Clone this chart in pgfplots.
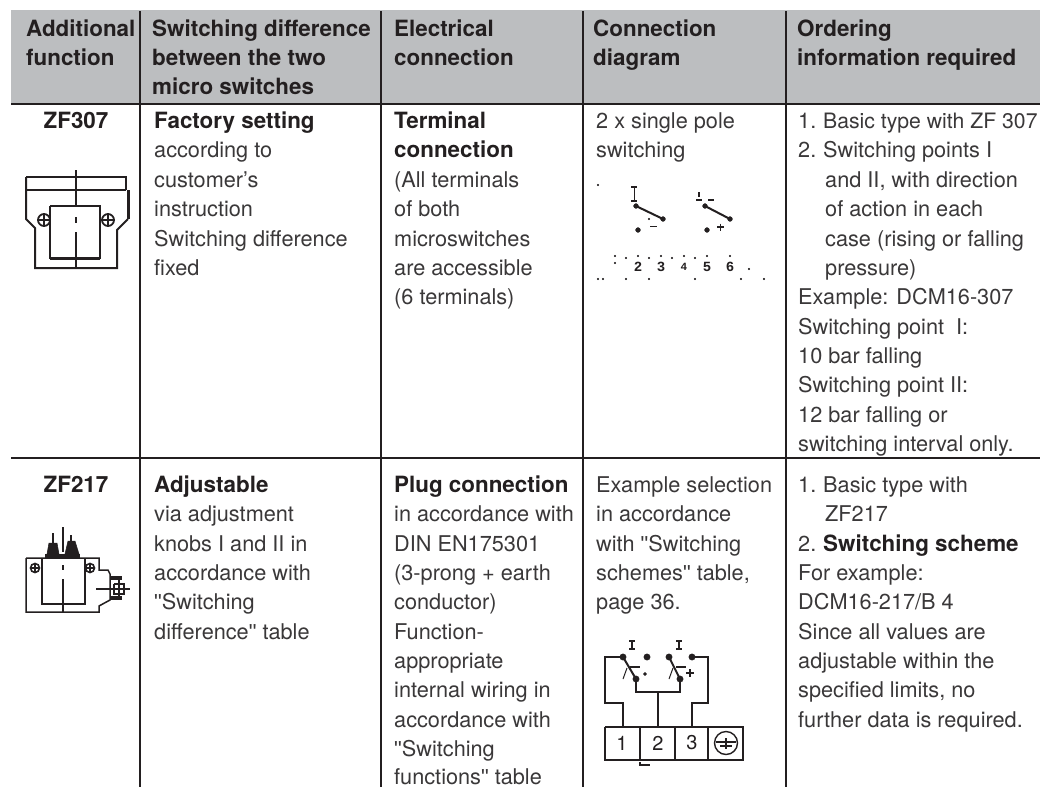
\documentclass[border=0pt]{standalone}
\usepackage{fontspec}
\setmainfont{TeX Gyre Heros}[Ligatures=ResetAll]
\newfontfamily\monof{Liberation Mono}
\newfontfamily\qf{Liberation Sans}[Ligatures=ResetAll]
\newcommand\q{{\qf\symbol{34}}}
\usepackage{pgfplots}
\pgfplotsset{compat=1.18}
\definecolor{hdr}{HTML}{BCBEC0}
\definecolor{ink}{HTML}{231F20}
\definecolor{txt}{HTML}{3A3839}
\newcommand\fs{\fontsize{21.7}{26}\selectfont}
\newcommand\fb{\fontsize{22.4}{26}\selectfont}
\newcommand\T[3]{\node[anchor=base west,inner sep=0pt,text=txt,font=\fs] at (axis cs:#1,#2) {#3};}
\newcommand\B[3]{\node[anchor=base west,inner sep=0pt,text=ink,font=\fb\bfseries] at (axis cs:#1,#2) {#3};}
\newcommand\C[3]{\node[anchor=base,inner sep=0pt,text=ink,font=\fb\bfseries] at (axis cs:#1,#2) {#3};}
\newcommand\D[3]{\node[anchor=center,inner sep=0pt,text=ink,font=\monof\bfseries\fontsize{#3}{#3}\selectfont] at (axis cs:#1) {#2};}
\newcommand\seg[2]{\addplot[color=ink,line width=#1,forget plot,mark=none] coordinates {#2};}
\newcommand\blk[1]{\addplot[fill=ink,draw=ink,line width=0.5pt,forget plot,mark=none] coordinates {#1} -- cycle;}
\newcommand\pts[2]{\addplot[only marks,mark=*,mark size=#1,color=ink,forget plot] coordinates {#2};}
\newcommand\ring[3]{\addplot[only marks,mark=o,mark size=#1,color=ink,line width=#2,forget plot] coordinates {#3};}
\begin{document}
\begin{tikzpicture}
\begin{axis}[scale only axis,width=1040pt,height=787pt,xmin=0,xmax=1040,ymin=0,ymax=787,y dir=reverse,hide axis,clip=true]
\addplot[fill=white,draw=none,forget plot] coordinates {(0,0)(1040,0)(1040,787)(0,787)} -- cycle;
\addplot[fill=hdr,draw=none,forget plot] coordinates {(11,10)(1040,10)(1040,103)(11,103)} -- cycle;
% rules
\seg{2.2pt}{(11,104)(1040,104)}
\seg{2.2pt}{(11,458)(1040,458)}
\seg{2.2pt}{(140,11)(140,787)}
\seg{2.2pt}{(381,11)(381,787)}
\seg{2.2pt}{(583,11)(583,787)}
\seg{2.2pt}{(786,11)(786,787)}
% header
\B{26}{36}{Additional}\B{26}{65}{function}
\B{152}{36}{Switching difference}\B{152}{65}{between the two}\B{152}{94}{micro switches}
\B{394}{36}{Electrical}\B{394}{65}{connection}
\B{593}{36}{Connection}\B{593}{65}{diagram}
\B{797}{36}{Ordering}\B{797}{65}{information required}
% row 1
\C{76}{128}{ZF307}
\B{154}{128}{Factory setting}
\T{154}{157.5}{according to}
\T{154}{187}{customer’s}
\T{154}{216.5}{instruction}
\T{154}{246}{Switching difference}
\T{154}{275}{fixed}
\B{394}{128}{Terminal}
\B{394}{157.5}{connection}
\T{394}{187}{(All terminals}
\T{394}{216.5}{of both}
\T{394}{246}{microswitches}
\T{394}{275}{are accessible}
\T{394}{304.5}{(6 terminals)}
\T{596}{128}{2 x single pole}
\T{596}{157.5}{switching}
\T{798}{128}{1.}\T{823}{128}{\fontsize{21.2}{26}\selectfont Basic type with ZF 307}
\T{798}{157.5}{2.}\T{823}{157.5}{Switching points I}
\T{825}{187}{and II, with direction}
\T{825}{216.5}{of action in each}
\T{825}{246}{case (rising or falling}
\T{825}{275}{pressure)}
\T{798}{304.5}{Example: DCM16-307}
\T{798}{334}{Switching point\ \ I:}
\T{798}{363}{10 bar falling}
\T{798}{392.5}{Switching point II:}
\T{798}{422}{12 bar falling or}
\T{798}{451}{switching interval only.}
% row 2
\C{76}{492}{ZF217}
\B{154}{492}{Adjustable}
\T{154}{521.5}{via adjustment}
\T{154}{551}{knobs I and II in}
\T{154}{580}{accordance with}
\T{154}{609.5}{\q Switching}
\T{154}{639}{difference\q{} table}
\B{394}{492}{Plug connection}
\T{394}{521.5}{in accordance with}
\T{394}{551}{DIN EN175301}
\T{394}{580}{(3-prong + earth}
\T{394}{609.5}{conductor)}
\T{394}{639}{Function-}
\T{394}{668}{appropriate}
\T{394}{697.5}{internal wiring in}
\T{394}{727}{accordance with}
\T{394}{756}{\q Switching}
\T{394}{784}{functions\q{} table}
\T{596}{492}{Example selection}
\T{596}{521.5}{in accordance}
\T{596}{551}{with \q Switching}
\T{596}{580}{schemes\q{} table,}
\T{596}{609.5}{page 36.}
\T{798}{492}{1.}\T{823}{492}{Basic type with}
\T{825}{521.5}{ZF217}
\T{798}{551}{2.}\B{823}{551}{Switching scheme}
\T{798}{580}{For example:}
\T{798}{609.5}{DCM16-217/B 4}
\T{798}{639}{Since all values are}
\T{798}{668}{adjustable within the}
\T{798}{697.5}{specified limits, no}
\T{798}{727}{further data is required.}
% ZF307 drawing
\seg{1.3pt}{(26,177)(126,177)(126,190)}
\seg{1.3pt}{(26,190)(126,190)}
\seg{2pt}{(26,177)(26,219)(35,228)(35,268)(117,268)(117,230)(128,219)}
\seg{3pt}{(128,190)(128,219)}
\seg{1.2pt}{(76,170)(76,206)}
\seg{2pt}{(50,206)(100,206)(100,258)(50,258)(50,206)}
\seg{3pt}{(50,258)(100,258)}
\seg{1.2pt}{(76,217)(76,223)}
\seg{1.2pt}{(76,232)(76,268)}
\ring{6pt}{1.8pt}{(44,220)(108,220)}
\seg{1.2pt}{(38,220)(50,220)}\seg{1.2pt}{(44,214)(44,226)}
\seg{1.2pt}{(102,220)(114,220)}\seg{1.2pt}{(108,214)(108,226)}
% ZF217 drawing
\seg{1.5pt}{(26,558)(99,558)(99,570)(108,570)(110,574)(110,600)(99,606)(99,612)(26,612)(26,558)}
\seg{2.6pt}{(42,558)(42,604)(85,604)(85,558)}
\seg{3.5pt}{(45,556)(80,556)}
\seg{1.2pt}{(63,527)(63,552)}
\seg{1.2pt}{(63,565)(63,570)}
\seg{1.2pt}{(63,579)(63,612)}
\seg{1.5pt}{(53,533)(53,546)}
\seg{1.5pt}{(71,535)(71,546)}
\blk{(49,543)(57,543)(59,554)(47,554)}
\blk{(68,541)(75,541)(79,554)(65,554)}
\ring{4.5pt}{1.6pt}{(35,568)(90,568)}
\seg{1.1pt}{(30,568)(40,568)}\seg{1.1pt}{(35,563)(35,573)}
\seg{1.1pt}{(85,568)(95,568)}\seg{1.1pt}{(90,563)(90,573)}
\seg{1.2pt}{(96,589)(130,589)}
\seg{3.5pt}{(110,578)(122,578)}
\seg{3.5pt}{(110,598)(122,598)}
\seg{2pt}{(114,584)(124,584)(124,594)(114,594)(114,584)}
\seg{2pt}{(119,578)(119,598)}
% first connection diagram
\pts{0.8pt}{(598,185)}
\seg{1.6pt}{(631,187)(637,187)}\seg{1.8pt}{(634.5,187)(634.5,201)}\seg{1.6pt}{(631,201)(637,201)}
\seg{2pt}{(636,206)(663,219)}
\pts{2.4pt}{(638,230)(663,219)(707,230)(730,219)(705,206)(636,206)}
\pts{0.8pt}{(649,219)}
\seg{1.6pt}{(650,226.5)(657,226.5)}
\seg{2pt}{(705,206)(730,219)}
\seg{1.6pt}{(699,192)(699,197)}
\seg{1.8pt}{(696,200)(702,200)}
\seg{2pt}{(708,200)(714,200)}
\seg{1.6pt}{(717,227)(724,227)}\seg{1.6pt}{(720.5,223.5)(720.5,230.5)}
\pts{0.8pt}{(615,256)(626,258)(638,256)(649,258)(661,256)(672,258)(684,256)(695,258)(707,256)(730,256)(615,263)(749,269)(598,279)(603,279)(626,279)(649,279)(695,279)(741,279)(764,279)}
\D{638,267}{2}{14}
\D{661,267}{3}{14}
\D{684,267}{4}{11}
\D{707,267}{5}{14}
\D{730,267}{6}{14}
% second connection diagram
\seg{1.6pt}{(629,641)(635,641)}\seg{2pt}{(632,641)(632,649)}\seg{1.6pt}{(629,649)(635,649)}
\seg{1.6pt}{(676,641)(682,641)}\seg{2.2pt}{(679,641)(679,649)}\seg{1.6pt}{(676,649)(682,649)}
\pts{3.2pt}{(623,657)(647,657)(636,679)(669,657)(692,657)(680,679)}
\seg{2pt}{(623,657)(636,679)}
\seg{2pt}{(669,657)(680,679)}
\seg{1.5pt}{(630,667)(640,667)}
\seg{1.5pt}{(676,667)(686,667)}
\seg{1pt}{(623,679)(627,668)}
\seg{1pt}{(669,679)(673,668)}
\pts{1.6pt}{(645,674)}
\seg{1.5pt}{(686,673)(694,673)}\seg{1.5pt}{(690,669)(690,677)}
\seg{1.8pt}{(623,657)(605,657)(605,703)(623,703)(623,727)}
\seg{1.8pt}{(692,657)(708,657)(708,703)(692,703)(692,727)}
\seg{1.8pt}{(636,679)(636,692)(680,692)(680,679)}
\seg{1.8pt}{(658,692)(658,727)}
\seg{1.6pt}{(605,727)(743,727)(743,760)(605,760)(605,727)}
\seg{1.4pt}{(640,727)(640,760)}
\seg{1.4pt}{(675,727)(675,760)}
\seg{1.4pt}{(708,727)(708,760)}
\node[anchor=center,inner sep=0pt,text=ink,font=\fontsize{20}{20}\selectfont] at (axis cs:622,743) {1};
\node[anchor=center,inner sep=0pt,text=ink,font=\fontsize{20}{20}\selectfont] at (axis cs:658,743) {2};
\node[anchor=center,inner sep=0pt,text=ink,font=\fontsize{20}{20}\selectfont] at (axis cs:692,743) {3};
\ring{11.5pt}{1.4pt}{(726,743)}
\seg{1.6pt}{(716,742)(736,742)}
\seg{2pt}{(726,738)(726,749)}
\seg{1.4pt}{(720,746)(732,746)}
\seg{1.2pt}{(640,762)(640,765)(650,765)}
\end{axis}
\end{tikzpicture}
\end{document}
